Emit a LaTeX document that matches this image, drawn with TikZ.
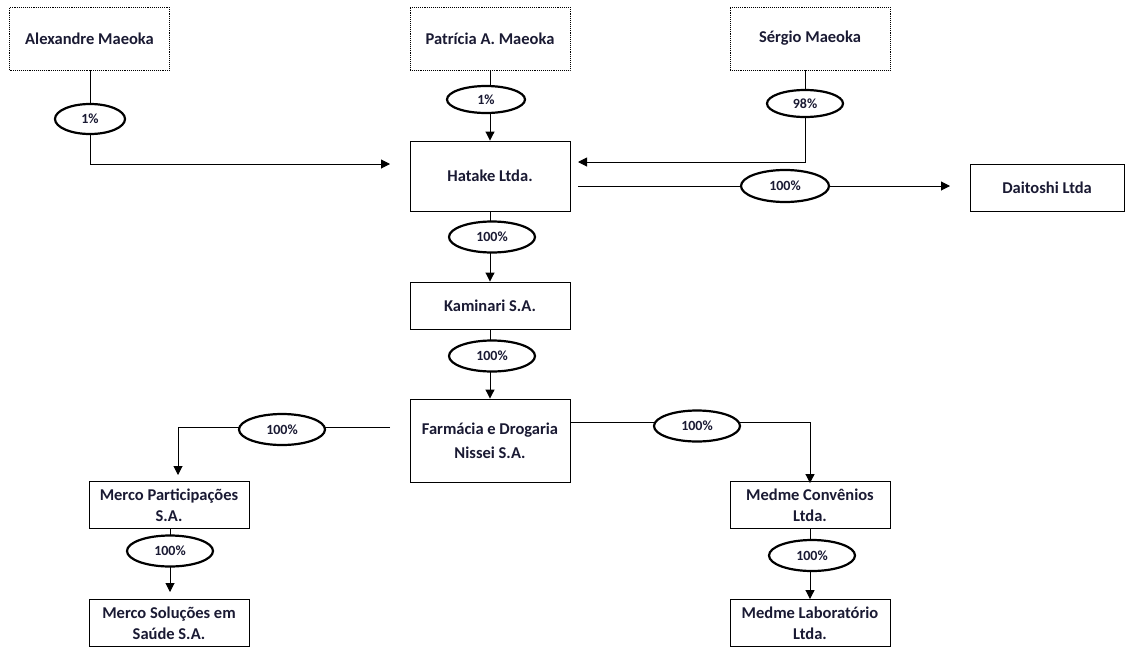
\documentclass[tikz,border=0pt]{standalone}
\usepackage{fontspec}
\setmainfont{Carlito}
\usetikzlibrary{shapes.geometric,arrows.meta}
\definecolor{txt}{HTML}{1A1A33}
\tikzset{
  ent/.style={draw=black, line width=0.9pt, fill=white, minimum width=160pt, align=center,
    font=\fontsize{16.5}{21}\selectfont\bfseries, text=txt, inner sep=1pt},
  ent1/.style={ent, minimum height=47pt},
  person/.style={ent, minimum height=63pt, densely dotted},
  pct/.style={draw=black, ellipse, line width=2.2pt, fill=white, minimum width=86pt, minimum height=31pt,
    inner sep=0pt, font=\fontsize{14}{16}\selectfont\bfseries, text=txt},
  pcts/.style={pct, minimum width=74pt, minimum height=28pt},
  conn/.style={line width=1pt, draw=black},
  arr/.style={conn, -{Triangle[length=9pt,width=9pt]}}
}
\begin{document}
\begin{tikzpicture}[x=1pt,y=-1pt]
\useasboundingbox (0,0) rectangle (1126,648);
% entities
\node[person] (alex) at (89.5,38.5) {Alexandre Maeoka};
\node[person] (patr) at (490,38.5) {Patrícia A. Maeoka};
\node[person] (serg) at (810,38.5) {Sérgio Maeoka};
\node[ent, minimum height=70pt] (hat) at (490,176) {Hatake Ltda.};
\node[ent1, minimum width=154pt] (dai) at (1047,187.5) {Daitoshi Ltda};
\node[ent1] (kam) at (490,305.5) {Kaminari S.A.};
\node[ent, minimum height=83pt, font=\fontsize{16.5}{24}\selectfont\bfseries] (far) at (490,440.5) {Farmácia e Drogaria\\Nissei S.A.};
\node[ent1] (mpar) at (169,505) {Merco Participações\\S.A.};
\node[ent1] (msol) at (169,623) {Merco Soluções em\\Saúde S.A.};
\node[ent1] (mcon) at (810,505) {Medme Convênios\\Ltda.};
\node[ent1] (mlab) at (810,623) {Medme Laboratório\\Ltda.};
% helper coordinates
\coordinate (a1) at (90,164);
\coordinate (a2) at (390,164);
\coordinate (s1) at (805,162);
\coordinate (s2) at (578,162);
\coordinate (h1) at (578,186);
\coordinate (h2) at (950,186);
\coordinate (f1) at (390,427);
\coordinate (f2) at (178,427);
\coordinate (f3) at (178,475);
\coordinate (g1) at (570,422);
\coordinate (g2) at (810,422);
% connectors
\draw[arr] (alex.south -| a1) -- (a1) -- (a2);
\draw[arr] (patr.south) -- (hat.north);
\draw[arr] (serg.south -| s1) -- (s1) -- (s2);
\draw[arr] (h1) -- (h2);
\draw[arr] (hat.south) -- (kam.north);
\draw[arr] (kam.south) -- (far.north);
\draw[arr] (f1) -- (f2) -- (f3);
\draw[arr] (g1) -- (g2) -- ([yshift=-2pt]mcon.north);
\draw[arr] (mpar.south -| 170,0) -- (170,592);
\draw[arr] (mcon.south) -- (mlab.north);
% percentages
\node[pcts, minimum width=70pt, minimum height=30pt] (p1) at (90,119) {1\%};
\node[pcts, minimum width=78pt, minimum height=27pt] (p2) at (486,99.5) {1\%};
\node[pcts, minimum width=76pt, minimum height=27pt] (p3) at (805,103.5) {98\%};
\node[pct, minimum width=88pt, minimum height=32pt] (p4) at (785,186) {100\%};
\node[pct] (p5) at (492,237) {100\%};
\node[pct] (p6) at (492,356) {100\%};
\node[pct] (p7) at (282,429.5) {100\%};
\node[pct] (p8) at (697,426) {100\%};
\node[pct] (p9) at (170,551) {100\%};
\node[pct] (p10) at (812,555.5) {100\%};
\end{tikzpicture}
\end{document}
